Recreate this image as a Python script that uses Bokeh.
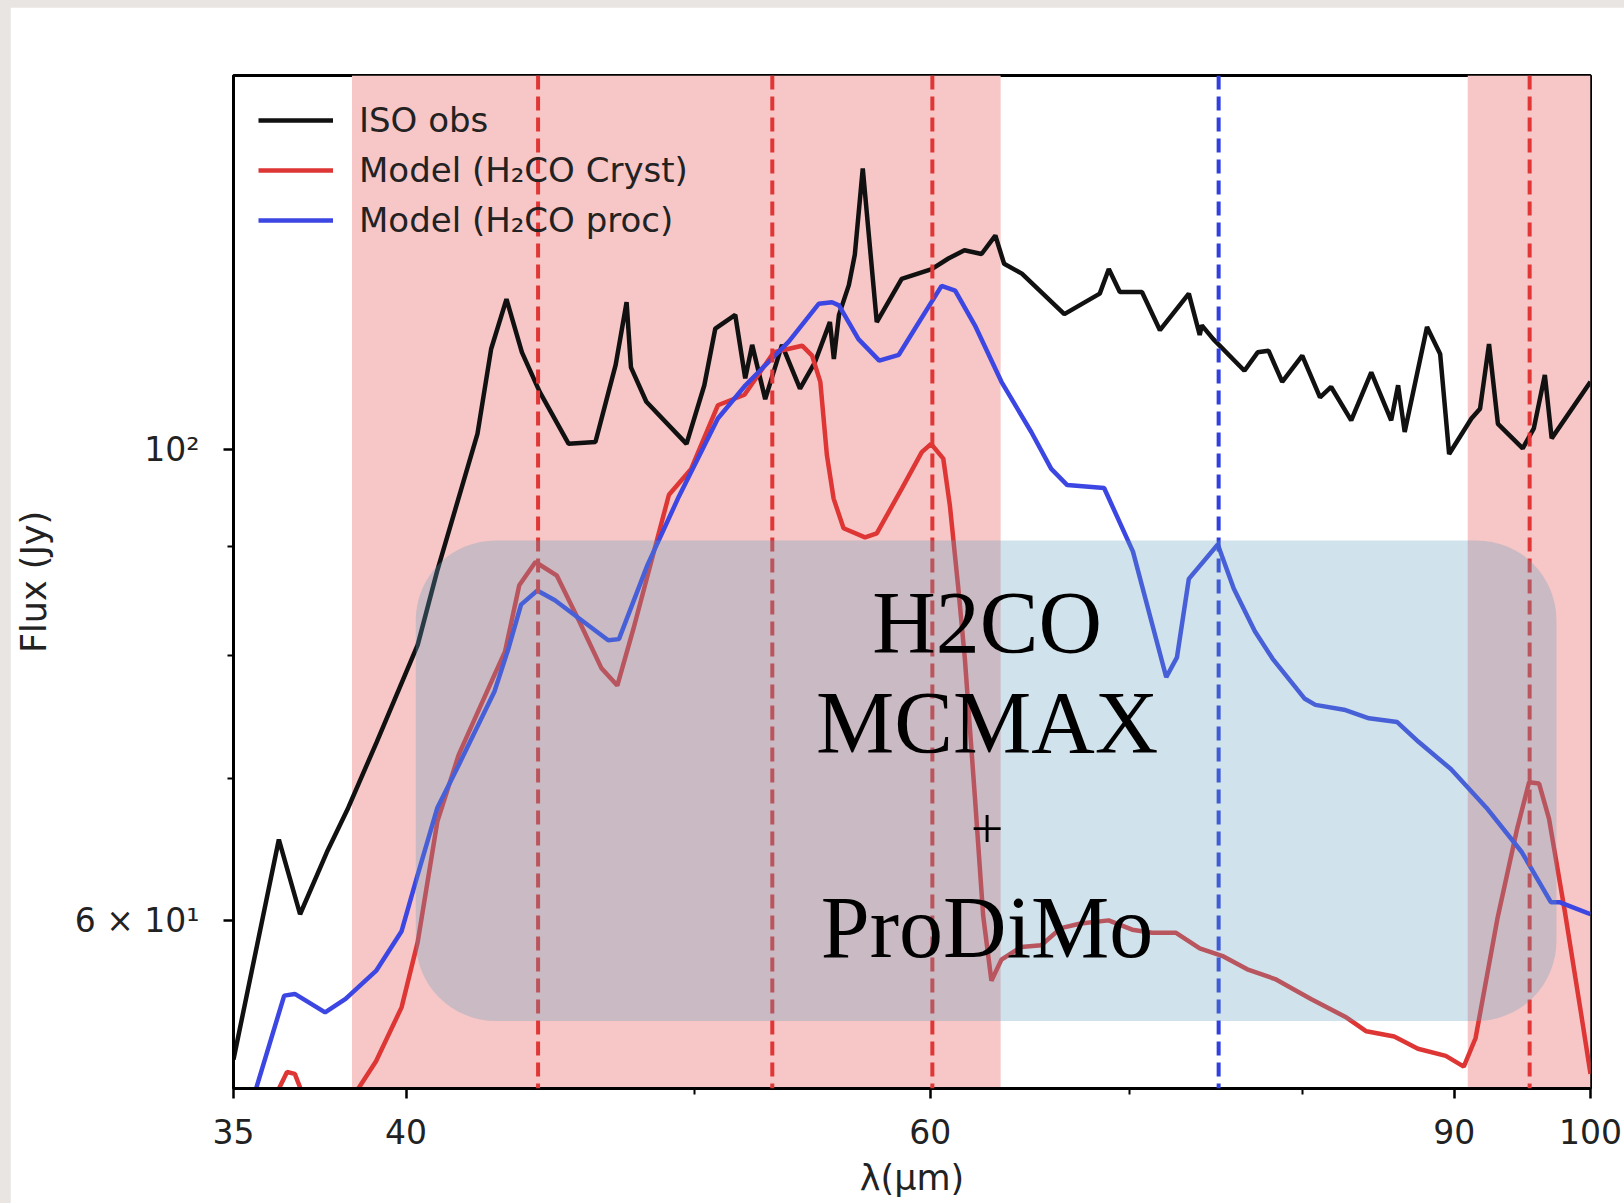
from bokeh.plotting import figure
from bokeh.models import Range1d, FixedTicker, BoxAnnotation, Span, Label
from bokeh.embed import file_html
from bokeh.resources import INLINE

# ISO observed spectrum: wavelength (um) and flux (Jy)
iso_wl = [35.00, 36.25, 36.85, 37.62, 38.25, 39.10, 40.36, 40.97, 42.27, 42.72,
          43.23, 43.75, 44.36, 45.36, 46.31, 46.78, 47.04, 47.44, 47.60, 48.17,
          49.69, 50.38, 50.81, 51.60, 52.00, 52.28, 52.81, 53.50, 54.25, 54.88,
          55.52, 55.69, 55.91, 56.34, 56.60, 56.95, 57.57, 58.69, 60.07, 60.85,
          61.61, 62.43, 63.10, 63.53, 64.41, 66.56, 68.41, 68.89, 69.48, 70.68,
          71.67, 73.29, 73.91, 74.03, 74.69, 76.51, 77.30, 77.95, 78.78, 80.01,
          81.12, 81.82, 83.10, 84.40, 85.71, 86.17, 86.61, 88.12, 89.02, 89.64,
          91.20, 91.81, 92.45, 93.09, 94.89, 95.71, 96.53, 97.04, 100.0]
iso_flux = [51.6, 65.5, 60.4, 64.6, 67.8, 72.8, 80.9, 87.6, 101.7, 111.5,
            117.7, 111.1, 106.4, 100.6, 100.8, 106.4, 109.6, 117.3, 109.3, 105.3,
            100.6, 107.2, 114.0, 115.7, 108.0, 112.0, 105.6, 112.0, 106.8, 109.9,
            114.8, 110.3, 115.7, 119.5, 123.5, 135.6, 114.8, 120.3, 121.6, 123.0,
            124.1, 123.6, 126.1, 122.3, 121.0, 115.8, 118.4, 121.6, 118.6, 118.6,
            113.8, 118.4, 113.2, 114.4, 112.7, 108.9, 111.1, 111.3, 107.6, 110.7,
            105.8, 107.0, 103.2, 108.7, 103.2, 107.2, 101.9, 114.2, 110.9, 99.5,
            103.4, 104.5, 112.1, 102.8, 100.1, 102.3, 108.4, 101.2, 107.6]

# Model with crystalline H2CO ice
cryst_wl = [35.87, 36.48, 36.70, 37.11, 37.81, 38.55, 39.08, 39.86, 40.36, 40.98,
            41.66, 42.83, 43.18, 43.66, 44.21, 44.95, 45.75, 46.52, 47.10, 47.69,
            48.35, 49.02, 49.87, 50.91, 51.97, 53.16, 54.34, 54.76, 55.11, 55.39,
            55.68, 56.11, 57.05, 57.57, 58.69, 59.61, 60.04, 60.61, 60.92, 61.32,
            61.63, 62.11, 62.51, 62.91, 63.40, 64.38, 65.38, 66.38, 67.41, 68.88,
            70.15, 71.24, 72.57, 73.91, 75.28, 76.68, 78.35, 80.55, 82.80, 84.08,
            85.91, 87.50, 89.41, 90.66, 91.49, 93.05, 94.49, 95.36, 96.10, 96.84,
            98.03, 99.24, 100.0]
cryst_flux = [48.5, 50.9, 50.8, 48.8, 47.2, 50.0, 51.5, 54.6, 58.6, 66.8,
              71.8, 78.3, 80.3, 86.3, 88.5, 87.2, 82.9, 78.9, 77.4, 82.3,
              88.5, 95.2, 97.9, 104.9, 106.1, 111.1, 111.9, 110.7, 107.6, 99.4,
              94.8, 91.8, 90.9, 91.3, 95.8, 99.7, 100.6, 99.0, 94.1, 86.0,
              79.7, 68.6, 60.3, 56.2, 57.5, 58.3, 58.4, 59.5, 59.8, 60.0,
              59.4, 59.2, 59.2, 58.2, 57.7, 56.9, 56.3, 55.1, 54.0, 53.2,
              52.9, 52.2, 51.8, 51.2, 52.8, 60.1, 66.3, 69.7, 69.6, 67.0,
              60.6, 54.4, 50.8]

# Model with processed H2CO ice
proc_wl = [35.00, 36.40, 36.70, 37.57, 38.17, 39.08, 39.86, 40.30, 40.98, 41.66,
           42.83, 43.30, 43.72, 44.27, 44.88, 46.77, 47.16, 48.21, 49.36, 50.91,
           52.01, 53.78, 55.04, 55.61, 55.91, 56.76, 57.68, 58.56, 59.30, 60.53,
           61.17, 62.11, 63.40, 64.88, 65.89, 66.71, 68.64, 70.19, 72.02, 72.62,
           73.29, 74.95, 75.88, 77.13, 78.19, 80.17, 80.83, 82.64, 84.25, 86.11,
           87.56, 89.76, 92.26, 94.83, 96.98, 97.62, 100.0]
proc_flux = [46.1, 55.3, 55.4, 54.3, 55.1, 56.8, 59.3, 62.6, 67.8, 71.0,
             76.9, 80.6, 84.5, 85.8, 84.9, 81.3, 81.4, 88.2, 94.8, 103.4,
             107.2, 112.4, 117.1, 117.3, 116.9, 112.7, 110.1, 110.8, 114.0, 119.4,
             118.8, 114.4, 107.6, 101.9, 97.9, 96.2, 95.9, 89.5, 78.1, 79.8,
             86.9, 90.2, 86.0, 82.1, 79.7, 76.3, 75.8, 75.4, 74.7, 74.4,
             72.8, 70.7, 67.8, 64.6, 61.2, 61.2, 60.4]

# Feature bands and line positions (um)
bands = [(38.36, 63.36), (90.94, 100.0)]
cryst_lines = [44.3, 53.1, 60.1, 95.4]
proc_lines = [75.0]

x_ticks = [35, 40, 60, 90, 100]
x_minor = [50, 70, 80]
y_ticks = [60, 100]
y_minor = [70, 80, 90]
y_labels = {60: "6 × 10¹", 100: "10²"}

# Caption panel extent (um, Jy) and its text lines (text, y, font size)
panel = dict(left=40.3, right=97.4, top=90.6, bottom=53.8)
caption_x = 62.7
caption = [("H2CO", 82.90, "88px"), ("MCMAX", 74.34, "88px"),
           ("+", 66.23, "58px"), ("ProDiMo", 59.53, "88px")]

BLACK = "#111111"
RED = "#de3535"
BLUE = "#3c46e2"

p = figure(width=1614, height=1196, x_axis_type="log", y_axis_type="log",
           x_range=Range1d(35, 100), y_range=Range1d(50, 150),
           output_backend="svg", toolbar_location=None,
           min_border_left=218, min_border_right=34,
           min_border_top=68, min_border_bottom=115)

p.background_fill_color = "white"
p.border_fill_color = "white"
p.outline_line_color = "black"
p.outline_line_width = 3
p.grid.visible = False

for lo, hi in bands:
    p.add_layout(BoxAnnotation(left=lo, right=hi, fill_color="#f7c6c6",
                               fill_alpha=1.0, line_alpha=0, level="underlay"))

p.line(iso_wl, iso_flux, color=BLACK, line_width=4.5, legend_label="ISO obs")
p.line(cryst_wl, cryst_flux, color=RED, line_width=4.5,
       legend_label="Model (H₂CO Cryst)")
p.line(proc_wl, proc_flux, color=BLUE, line_width=4.5,
       legend_label="Model (H₂CO proc)")

for w in cryst_lines:
    p.add_layout(Span(location=w, dimension="height", line_color="#e03636",
                      line_width=4, line_dash="14 7"))
for w in proc_lines:
    p.add_layout(Span(location=w, dimension="height", line_color="#2f3fe0",
                      line_width=4, line_dash="14 7"))

# translucent caption panel on top of the plot
p.add_layout(BoxAnnotation(fill_color=(100, 160, 190), fill_alpha=0.3,
                           line_alpha=0, border_radius=80, **panel))
for txt, yv, fs in caption:
    p.add_layout(Label(x=caption_x, y=yv, text=txt, text_align="center",
                       text_baseline="alphabetic", text_font="Liberation Serif",
                       text_font_size=fs, text_color="black"))

# axes
for ax in (p.xaxis[0], p.yaxis[0]):
    ax.axis_line_width = 3
    ax.axis_line_color = "black"
    ax.major_tick_line_width = 2.5
    ax.minor_tick_line_width = 2
    ax.major_tick_in = 0
    ax.minor_tick_in = 0
    ax.major_tick_out = 10
    ax.minor_tick_out = 6
    ax.major_label_text_font = "DejaVu Sans"
    ax.major_label_text_font_size = "33px"
    ax.major_label_text_color = "#222222"
    ax.axis_label_text_font = "DejaVu Sans"
    ax.axis_label_text_font_size = "35px"
    ax.axis_label_text_font_style = "normal"
    ax.axis_label_text_color = "#222222"

p.xaxis.ticker = FixedTicker(ticks=x_ticks, minor_ticks=x_minor)
p.xaxis.major_label_overrides = {t: str(t) for t in x_ticks}
p.xaxis.major_label_standoff = 20
p.xaxis.axis_label = "λ(μm)"
p.xaxis.axis_label_standoff = 11

p.yaxis.ticker = FixedTicker(ticks=y_ticks, minor_ticks=y_minor)
p.yaxis.major_label_overrides = y_labels
p.yaxis.major_label_standoff = 24
p.yaxis.axis_label = "Flux (Jy)"
p.yaxis.axis_label_standoff = 18

lg = p.legend[0]
lg.location = "top_left"
lg.margin = 25
lg.padding = 0
lg.spacing = 10
lg.glyph_width = 75
lg.glyph_height = 40
lg.label_height = 40
lg.label_standoff = 26
lg.label_text_font = "DejaVu Sans"
lg.label_text_font_size = "34px"
lg.label_text_color = "#222222"
lg.background_fill_alpha = 0
lg.border_line_alpha = 0

html = file_html(p, INLINE, title="ISO spectrum and H2CO models")
html = html.replace(
    "</head>",
    "<style>html,body{margin:0 !important;}"
    "body{padding:7px 0 0 10px !important;background:#e8e5e2 !important;}"
    "</style></head>", 1)
open("out.html", "w").write(html)
